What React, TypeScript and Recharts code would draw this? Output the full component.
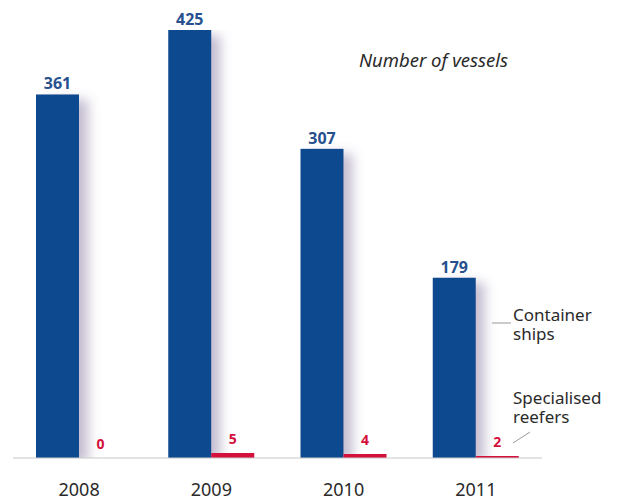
import React from "react";
import { BarChart, Bar, XAxis, YAxis, LabelList } from "recharts";

const years = ["2008", "2009", "2010", "2011"];
const containerShips = [361, 425, 307, 179];
const specialisedReefers = [0, 5, 4, 2];

const data = years.map((y, i) => ({
  year: y,
  container: containerShips[i],
  reefers: specialisedReefers[i],
}));

const FONT = "'Noto Sans', 'Open Sans', sans-serif";
const BLUE = "#0e4a8e";
const RED = "#d4103c";
const TEXT = "#2a2a2a";

const ShadowRect = (props: any) => {
  const { x, y, width, height, fill } = props;
  if (!height || height <= 0) return null;
  return <rect x={x} y={y} width={width} height={height} fill={fill} filter="url(#barShadow)" />;
};

// Reefer value labels, placed from the container bar geometry (px per unit from the same scale)
const ReeferLabel = (props: any) => {
  const { x, y, width, height, index } = props;
  const cv = containerShips[index];
  const rv = specialisedReefers[index];
  const ppu = cv ? height / cv : 0;
  const base = y + height;
  const top = base - rv * ppu;
  return (
    <text
      x={x + width * 1.5}
      y={top - 9}
      textAnchor="middle"
      fontSize={14}
      fontWeight={700}
      fill={RED}
      fontFamily={FONT}
    >
      {rv}
    </text>
  );
};

export default function App() {
  return (
    <div style={{ position: "absolute", left: 0, top: 0, width: 619, height: 500, background: "#fff" }}>
      <BarChart
        width={619}
        height={500}
        data={data}
        margin={{ top: 30, right: 77, bottom: 12, left: 13 }}
        barGap={0}
        barSize={43}
      >
        <defs>
          <filter id="barShadow" x="-20%" y="-5%" width="170%" height="120%">
            <feGaussianBlur in="SourceAlpha" stdDeviation="6" />
            <feOffset dx="9" dy="5" result="blur" />
            <feFlood floodColor="#6a5a8a" floodOpacity="0.4" />
            <feComposite in2="blur" operator="in" />
            <feMerge>
              <feMergeNode />
              <feMergeNode in="SourceGraphic" />
            </feMerge>
          </filter>
        </defs>
        <XAxis
          dataKey="year"
          height={30}
          tickLine={false}
          axisLine={{ stroke: "#c8c8c8", strokeWidth: 1 }}
          tick={{ fontSize: 18, fill: TEXT, fontFamily: FONT, dy: 17 }}
          interval={0}
        />
        <YAxis hide type="number" domain={[0, 425]} allowDataOverflow />
        <Bar dataKey="container" fill={BLUE} isAnimationActive={false} shape={<ShadowRect />}>
          <LabelList
            dataKey="container"
            position="top"
            offset={5}
            fill="#27508f"
            fontSize={16}
            fontWeight={700}
            fontFamily={FONT}
          />
          <LabelList dataKey="container" content={<ReeferLabel />} />
        </Bar>
        <Bar dataKey="reefers" fill={RED} isAnimationActive={false} />
      </BarChart>
      <svg
        width={619}
        height={500}
        style={{ position: "absolute", left: 0, top: 0, pointerEvents: "none" }}
      >
        <text x={359} y={67} fontSize={18.5} fontStyle="italic" fill={TEXT} fontFamily={FONT}>
          Number of vessels
        </text>
        <line x1={492} y1={323} x2={511} y2={323} stroke="#999" strokeWidth={1} />
        <text x={513} y={321} fontSize={17} fill={TEXT} fontFamily={FONT}>
          <tspan x={513}>Container</tspan>
          <tspan x={513} dy={19}>ships</tspan>
        </text>
        <text x={513} y={404} fontSize={17} fill={TEXT} fontFamily={FONT}>
          <tspan x={513}>Specialised</tspan>
          <tspan x={513} dy={19}>reefers</tspan>
        </text>
        <line x1={513} y1={443} x2={530} y2={432} stroke="#999" strokeWidth={1} />
      </svg>
    </div>
  );
}
